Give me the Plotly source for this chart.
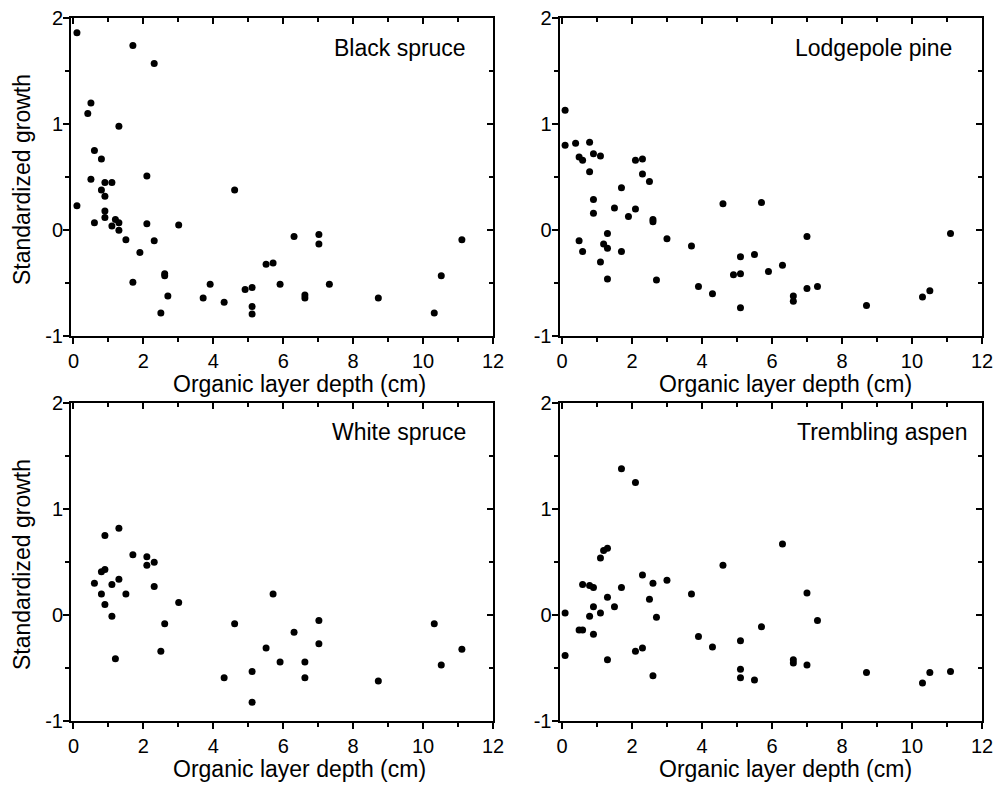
import plotly.graph_objects as go

# ---------------- data ----------------
species = ["Black spruce", "Lodgepole pine", "White spruce", "Trembling aspen"]

bs_x = [0.10, 1.70, 2.31, 0.50, 0.41, 1.30, 0.60, 0.80, 0.50, 0.90, 1.10, 2.10, 0.80, 0.90,
        0.10, 0.90, 0.90, 1.20, 1.30, 0.60, 1.10, 1.30, 2.10, 3.01, 1.50, 2.31, 1.90, 1.70,
        2.61, 2.61, 2.70, 2.50, 4.61, 3.71, 3.91, 4.31, 4.91, 5.11, 5.11, 5.11, 5.51, 5.71,
        5.91, 6.31, 7.02, 7.02, 6.62, 6.62, 7.32, 8.72, 10.32, 10.52, 11.11]
bs_y = [1.86, 1.74, 1.57, 1.20, 1.10, 0.98, 0.75, 0.67, 0.48, 0.45, 0.45, 0.51, 0.38, 0.32,
        0.23, 0.18, 0.12, 0.10, 0.07, 0.07, 0.04, 0.00, 0.06, 0.05, -0.09, -0.10, -0.21, -0.49,
        -0.41, -0.43, -0.62, -0.78, 0.38, -0.64, -0.51, -0.68, -0.56, -0.54, -0.72, -0.79, -0.32, -0.31,
        -0.51, -0.06, -0.04, -0.13, -0.61, -0.64, -0.51, -0.64, -0.78, -0.43, -0.09]

lp_x = [0.09, 0.09, 0.39, 0.79, 0.49, 0.59, 0.90, 1.10, 0.79, 0.90, 0.90, 1.70, 1.50, 2.10,
        2.30, 2.30, 2.50, 1.90, 2.10, 2.60, 2.60, 1.30, 0.49, 1.19, 1.30, 0.59, 1.70, 1.10,
        1.30, 3.00, 2.70, 3.70, 3.90, 4.30, 4.60, 4.90, 5.10, 5.10, 5.10, 5.50, 5.70, 5.90,
        6.30, 7.00, 6.61, 6.61, 7.00, 7.30, 8.70, 10.30, 10.51, 11.10]
lp_y = [1.13, 0.80, 0.82, 0.83, 0.69, 0.66, 0.72, 0.70, 0.55, 0.29, 0.16, 0.40, 0.21, 0.66,
        0.67, 0.53, 0.46, 0.13, 0.20, 0.10, 0.08, -0.03, -0.10, -0.13, -0.17, -0.20, -0.20, -0.30,
        -0.46, -0.08, -0.47, -0.15, -0.53, -0.60, 0.25, -0.42, -0.25, -0.41, -0.73, -0.23, 0.26, -0.39,
        -0.33, -0.06, -0.62, -0.67, -0.55, -0.53, -0.71, -0.63, -0.57, -0.03]

ws_x = [0.60, 0.80, 0.90, 0.90, 1.30, 0.80, 1.10, 1.30, 0.90, 1.10, 1.50, 1.20, 1.70, 2.10,
        2.10, 2.31, 2.31, 2.61, 2.50, 3.01, 4.31, 4.61, 5.11, 5.11, 5.51, 5.71, 5.91, 6.31,
        7.02, 7.02, 6.62, 6.62, 8.72, 10.32, 10.52, 11.11]
ws_y = [0.30, 0.41, 0.43, 0.75, 0.82, 0.20, 0.29, 0.34, 0.10, -0.01, 0.20, -0.41, 0.57, 0.55,
        0.47, 0.50, 0.27, -0.08, -0.34, 0.12, -0.59, -0.08, -0.53, -0.82, -0.31, 0.20, -0.44, -0.16,
        -0.05, -0.27, -0.44, -0.59, -0.62, -0.08, -0.47, -0.32]

ta_x = [0.09, 0.09, 0.49, 0.59, 0.59, 0.79, 0.90, 0.79, 0.90, 0.90, 1.10, 1.10, 1.19, 1.30,
        1.30, 1.30, 1.50, 1.70, 1.70, 2.10, 2.10, 2.30, 2.30, 2.50, 2.60, 2.70, 2.60, 3.00,
        3.70, 3.90, 4.30, 4.60, 5.10, 5.10, 5.10, 5.50, 5.70, 6.30, 7.00, 7.30, 6.61, 6.61,
        7.00, 8.70, 10.30, 10.51, 11.10]
ta_y = [0.02, -0.38, -0.14, -0.14, 0.29, 0.28, 0.26, -0.01, 0.08, -0.18, 0.02, 0.54, 0.61, 0.63,
        0.17, -0.42, 0.08, 1.38, 0.26, 1.25, -0.34, 0.38, -0.31, 0.15, 0.30, -0.02, -0.57, 0.33,
        0.20, -0.20, -0.30, 0.47, -0.24, -0.51, -0.59, -0.61, -0.11, 0.67, 0.21, -0.05, -0.42, -0.45,
        -0.47, -0.54, -0.64, -0.54, -0.53]

xs = [bs_x, lp_x, ws_x, ta_x]
ys = [bs_y, lp_y, ws_y, ta_y]

x_tick_vals = [0, 2, 4, 6, 8, 10, 12]
x_tick_text = ["0", "2", "4", "6", "8", "10", "12"]
y_tick_vals = [-1, 0, 1, 2]
y_tick_text = ["-1", "0", "1", "2"]
x_title = "Organic layer depth (cm)"
y_title = "Standardized growth"

# ---------------- layout ----------------
W, H = 996, 792
FONT = "Liberation Sans, Arial, sans-serif"

def px_x(p):
    return p / W

def px_y(p):
    return 1 - p / H

col_dom = [[px_x(71), px_x(493)], [px_x(559.5), px_x(982)]]
row_dom = [[px_y(336.3), px_y(18)], [px_y(721.3), px_y(403)]]

fig = go.Figure()

label_pos = [(468, 47.5), (954, 47.5), (468, 432), (969, 432)]

annotations = []
for i in range(4):
    r, c = divmod(i, 2)
    n = i + 1
    fig.add_trace(go.Scatter(
        x=xs[i], y=ys[i], mode="markers",
        marker=dict(color="black", size=7, line=dict(width=0)),
        xaxis=f"x{n}", yaxis=f"y{n}", showlegend=False, hoverinfo="skip"))
    # dummy trace for mirror axes
    fig.add_trace(go.Scatter(x=[], y=[], xaxis=f"x{n+4}", yaxis=f"y{n+4}",
                             showlegend=False, hoverinfo="skip"))

    common_x = dict(range=[-0.07, 12], domain=col_dom[c], showgrid=False, zeroline=False,
                    tickvals=x_tick_vals, ticktext=x_tick_text,
                    ticklen=6, tickwidth=1.6, tickcolor="black",
                    linecolor="black", linewidth=2,
                    minor=dict(dtick=1, tick0=0, ticklen=4, tickwidth=1.6, tickcolor="black"),
                    tickfont=dict(family=FONT, size=20, color="black"))
    common_y = dict(range=[-1, 2], domain=row_dom[r], showgrid=False, zeroline=False,
                    tickvals=y_tick_vals, ticktext=y_tick_text,
                    ticklen=6, tickwidth=1.6, tickcolor="black",
                    linecolor="black", linewidth=2,
                    minor=dict(dtick=0.5, tick0=0, ticklen=4, tickwidth=1.6, tickcolor="black"),
                    tickfont=dict(family=FONT, size=20, color="black"))

    fig.layout[f"xaxis{n}"] = dict(**common_x, anchor=f"y{n}", ticks="outside",
                                   showline=True, mirror=True,
                                   minor_ticks="outside")
    fig.layout[f"yaxis{n}"] = dict(**common_y, anchor=f"x{n}", ticks="outside",
                                   showline=True, mirror=True, ticklabelstandoff=-4,
                                   minor_ticks="outside")
    # inside ticks on top and right
    fig.layout[f"xaxis{n+4}"] = dict(**common_x, overlaying=f"x{n}", anchor=f"y{n}", side="top",
                                     ticks="inside", showline=False, showticklabels=False,
                                     minor_ticks="inside")
    fig.layout[f"yaxis{n+4}"] = dict(**common_y, overlaying=f"y{n}", anchor=f"x{n}", side="right",
                                     ticks="inside", showline=False, showticklabels=False,
                                     minor_ticks="inside")

    lx, ly = label_pos[i]
    annotations.append(dict(text=species[i], x=px_x(lx), y=px_y(ly), xref="paper", yref="paper",
                            xanchor="right", yanchor="middle", showarrow=False,
                            font=dict(family=FONT, size=23, color="black")))

    # axis titles
    xc = 299 if c == 0 else 785
    yt = 384 if r == 0 else 769
    annotations.append(dict(text=x_title, x=px_x(xc), y=px_y(yt), xref="paper", yref="paper",
                            xanchor="center", yanchor="middle", showarrow=False,
                            font=dict(family=FONT, size=23, color="black")))
    if c == 0:
        yc = 180 if r == 0 else 565
        annotations.append(dict(text=y_title, x=px_x(22), y=px_y(yc), xref="paper", yref="paper",
                                xanchor="center", yanchor="middle", showarrow=False, textangle=-90,
                                font=dict(family=FONT, size=23, color="black")))

fig.update_layout(width=W, height=H, margin=dict(l=0, r=0, t=0, b=0, autoexpand=False),
                  paper_bgcolor="white", plot_bgcolor="white", annotations=annotations,
                  font=dict(family=FONT, color="black"))

fig.write_html("out.html", config={"displayModeBar": False})
